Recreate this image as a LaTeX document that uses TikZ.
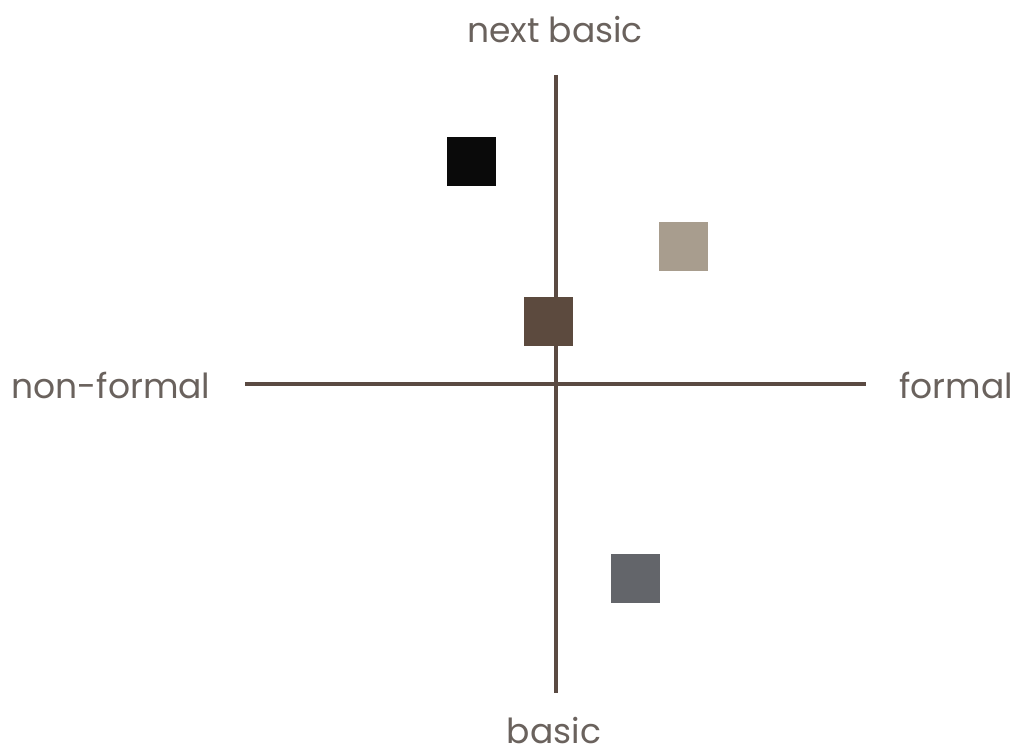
\documentclass[tikz,border=0pt]{standalone}
\usepackage{fontspec}
\setmainfont{Poppins}
\definecolor{axis}{HTML}{5A4A42}
\definecolor{txt}{HTML}{6A625D}
\definecolor{sqblack}{HTML}{0A0A0A}
\definecolor{sqtan}{HTML}{A89D8E}
\definecolor{sqbrown}{HTML}{5C4A3E}
\definecolor{sqgray}{HTML}{63656A}
\tikzset{
  axisline/.style={draw=axis, line width=4.5pt},
  sq/.style={minimum size=49pt, inner sep=0pt, outer sep=0pt},
  lbl/.style={text=txt, font=\fontsize{34.5}{40}\selectfont, inner sep=0pt}
}
\begin{document}
\begin{tikzpicture}[x=1pt,y=-1pt]
\useasboundingbox[fill=white] (0,0) rectangle (1019,754);
\coordinate (top) at (556,75);
\coordinate (bot) at (556,693);
\coordinate (lft) at (245,384);
\coordinate (rgt) at (866,384);
\draw[axisline] (top) -- (bot);
\draw[axisline] (lft) -- (rgt);
\node[sq, fill=sqblack] (s1) at (471.5,161.5) {};
\node[sq, fill=sqtan] (s2) at (683.5,246) {};
\node[sq, fill=sqbrown] (s3) at (548.5,321.5) {};
\node[sq, fill=sqgray] (s4) at (635.5,578) {};
\node[lbl] (nb) at (555,30) {next basic};
\node[lbl] (nf) at (111,385) {non-formal};
\node[lbl] (fo) at (956,385) {formal};
\node[lbl] (ba) at (554,731) {basic};
\end{tikzpicture}
\end{document}
